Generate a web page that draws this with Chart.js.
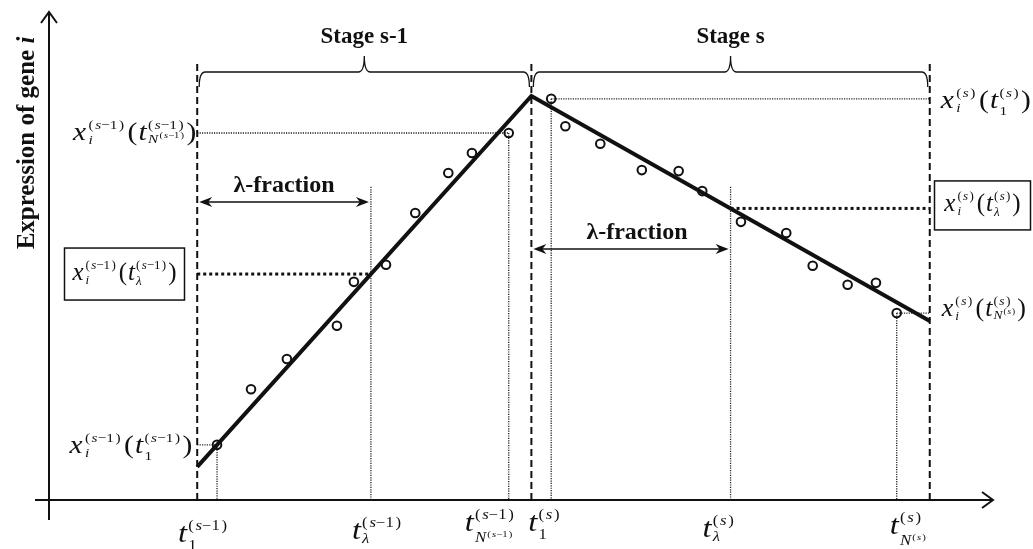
<!DOCTYPE html>
<html>
<head>
<meta charset="utf-8">
<script src="https://cdn.jsdelivr.net/npm/chart.js@4/dist/chart.umd.min.js"></script>
<style>
  html, body { margin: 0; padding: 0; background: #fff; }
  canvas { display: block; }
</style>
</head>
<body>
<canvas id="c" width="1033" height="549"></canvas>
<script>
// Expression of gene i sampled over time, stage s-1
const prevTimes = [17.8, 21.4, 25.2, 30.5, 32.3, 35.7, 38.8, 42.3, 44.8, 48.7];
const prevExpr  = [11.3, 22.7, 28.9, 35.7, 44.7, 48.2, 58.8, 67.0, 71.1, 75.2];
// Expression of gene i sampled over time, stage s
const curTimes = [53.2, 54.7, 58.4, 62.8, 66.7, 69.2, 73.3, 78.1, 80.9, 84.6, 87.6, 89.8];
const curExpr  = [82.2, 76.6, 73.0, 67.6, 67.4, 63.3, 57.0, 54.7, 48.0, 44.1, 44.5, 38.3];
// Stage boundaries and the piecewise-linear trend at those boundaries
const stageBounds = [15.7, 51.1, 93.3];
const fitExpr = [6.8, 82.8, 36.7];
// lambda-fraction time points of each stage
const lambdaTimes = [34.1, 72.2];
const stageTitles = ['Stage s-1', 'Stage s'];
const axisTitle = ['Expression of gene ', 'i'];
const lambdaText = 'λ-fraction';

// drawing constants (value-space heights of guide tops)
const GUIDE_TOP = 89.5;
const LAMBDA_TOP = 64.3;

function fitAt(t) {
  for (let k = 0; k < stageBounds.length - 1; k++) {
    const a = stageBounds[k], b = stageBounds[k + 1];
    if (t >= a && t <= b) return fitExpr[k] + (t - a) / (b - a) * (fitExpr[k + 1] - fitExpr[k]);
  }
  return NaN;
}

const pts = (ts, vs) => ts.map((t, i) => ({ x: t, y: vs[i] }));
const seg = (x1, y1, x2, y2) => [{ x: x1, y: y1 }, { x: x2, y: y2 }];

const INK = '#111';
const dashed = { borderColor: INK, borderWidth: 2, borderDash: [7, 4] };
const dotted = { borderColor: '#222', borderWidth: 1.3, borderDash: [1.2, 1.2] };
const heavyDot = { borderColor: INK, borderWidth: 3, borderDash: [3, 3] };

function guide(data, style) {
  return Object.assign({ data, showLine: true, pointRadius: 0, fill: false, tension: 0, clip: false }, style);
}

const lastP = prevTimes.length - 1, lastC = curTimes.length - 1;
const sampleStyle = { pointRadius: 4.3, pointBorderWidth: 2, pointBackgroundColor: 'rgba(0,0,0,0)',
  pointBorderColor: INK, showLine: false, clip: false };
const datasets = [
  Object.assign({ data: pts(prevTimes, prevExpr) }, sampleStyle),
  Object.assign({ data: pts(curTimes, curExpr) }, sampleStyle),
  guide(pts(stageBounds, fitExpr), { borderColor: INK, borderWidth: 4, borderJoinStyle: 'miter' }),
  // stage boundaries
  ...stageBounds.map(b => guide(seg(b, 0, b, GUIDE_TOP), dashed)),
  // first / last samples of each stage
  guide(seg(stageBounds[0], prevExpr[0], prevTimes[0], prevExpr[0]), dotted),
  guide(seg(prevTimes[0], prevExpr[0], prevTimes[0], 0), dotted),
  guide(seg(stageBounds[0], prevExpr[lastP], prevTimes[lastP], prevExpr[lastP]), dotted),
  guide(seg(prevTimes[lastP], prevExpr[lastP], prevTimes[lastP], 0), dotted),
  guide(seg(curTimes[0], curExpr[0], stageBounds[2], curExpr[0]), dotted),
  guide(seg(curTimes[0], curExpr[0], curTimes[0], 0), dotted),
  guide(seg(curTimes[lastC], curExpr[lastC], stageBounds[2], curExpr[lastC]), dotted),
  guide(seg(curTimes[lastC], curExpr[lastC], curTimes[lastC], 0), dotted),
  // lambda-fraction markers
  ...lambdaTimes.map(t => guide(seg(t, 0, t, LAMBDA_TOP), dotted)),
  guide(seg(stageBounds[0], fitAt(lambdaTimes[0]), lambdaTimes[0], fitAt(lambdaTimes[0])), heavyDot),
  guide(seg(lambdaTimes[1], fitAt(lambdaTimes[1]), stageBounds[2], fitAt(lambdaTimes[1])), heavyDot)
];

// ---- small math-text renderer ----
const SERIF = '"Liberation Serif", "Times New Roman", serif';
const fnt = (sz, it, b) => (it ? 'italic ' : '') + (b ? 'bold ' : '') + sz + 'px ' + SERIF;
const T = (s, sz, it) => ['t', s, sz, !!it];
const G = w => ['g', w];
const SS = (sup, sub, supDy, subDy) => ['ss', sup, sub, supDy, subDy];

function run(ctx, nodes, x, y, draw) {
  let cx = x;
  for (const n of nodes) {
    if (n[0] === 't') {
      ctx.font = fnt(n[2], n[3]);
      if (draw) ctx.fillText(n[1], cx, y);
      cx += ctx.measureText(n[1]).width;
    } else if (n[0] === 'g') {
      cx += n[1];
    } else {
      const w1 = run(ctx, n[1], cx, y + n[3], draw);
      const w2 = run(ctx, n[2], cx, y + n[4], draw);
      cx += Math.max(w1, w2);
    }
  }
  return cx - x;
}
function stageSup(prev, sz) {
  const g = sz * 0.1;
  return prev
    ? [T('(', sz), G(g), T('s', sz, true), T('−1', sz), G(g), T(')', sz)]
    : [T('(', sz), G(g), T('s', sz, true), G(g), T(')', sz)];
}
function tSub(kind, prev, sz) {
  if (kind === '1') return [T('1', sz)];
  if (kind === 'λ') return [T('λ', sz, true)];
  return [T('N', sz, true), G(1), SS(stageSup(prev, 9), [], -5, 0)];
}
// time symbol t with stage superscript and index subscript
function tTerm(kind, prev, g) {
  return [T('t', g.M, true), G(1), SS(stageSup(prev, g.S), tSub(kind, prev, g.S), g.sup, g.sub[kind])];
}
function xLabel(kind, prev, g) {
  return [T('x', g.M, true), G(2), SS(stageSup(prev, g.S), [T('i', g.S, true)], g.sup, 4), G(3),
    T('(', g.M), G(1), ...tTerm(kind, prev, g), G(2), T(')', g.M)];
}

function arrowHead(ctx, x, y, dir) {
  ctx.beginPath();
  ctx.moveTo(x, y);
  ctx.lineTo(x + dir * 13, y - 5);
  ctx.lineTo(x + dir * 9, y);
  ctx.lineTo(x + dir * 13, y + 5);
  ctx.closePath();
  ctx.fill();
}

function brace(ctx, x1, x2, y, drop, rise) {
  const xm = (x1 + x2) / 2;
  ctx.beginPath();
  ctx.moveTo(x1, y + drop);
  ctx.quadraticCurveTo(x1, y, x1 + 6, y);
  ctx.lineTo(xm - 6, y);
  ctx.quadraticCurveTo(xm, y, xm, y - rise);
  ctx.quadraticCurveTo(xm, y, xm + 6, y);
  ctx.lineTo(x2 - 6, y);
  ctx.quadraticCurveTo(x2, y, x2, y + drop);
  ctx.stroke();
}

const diagram = {
  id: 'diagram',
  beforeDatasetsDraw(chart) {
    const { ctx, chartArea: a } = chart;
    ctx.save();
    ctx.strokeStyle = INK;
    ctx.lineWidth = 2;
    // vertical axis with arrow
    ctx.beginPath();
    ctx.moveTo(a.left, a.bottom + 20);
    ctx.lineTo(a.left, a.top);
    ctx.moveTo(a.left - 8, a.top + 11);
    ctx.lineTo(a.left, a.top);
    ctx.lineTo(a.left + 8, a.top + 11);
    // horizontal axis with arrow
    ctx.moveTo(a.left - 14, a.bottom);
    ctx.lineTo(a.right, a.bottom);
    ctx.moveTo(a.right - 11, a.bottom - 8);
    ctx.lineTo(a.right, a.bottom);
    ctx.lineTo(a.right - 11, a.bottom + 8);
    ctx.stroke();
    ctx.restore();
  },
  afterDatasetsDraw(chart) {
    const { ctx } = chart;
    const xs = chart.scales.x, ys = chart.scales.y;
    const X = v => xs.getPixelForValue(v), Y = v => ys.getPixelForValue(v);
    ctx.save();
    ctx.fillStyle = INK;
    ctx.strokeStyle = INK;
    ctx.textBaseline = 'alphabetic';

    // braces and stage titles
    ctx.lineWidth = 1.3;
    const braceY = 72;
    for (let k = 0; k < 2; k++) {
      const x1 = X(stageBounds[k]) + 2, x2 = X(stageBounds[k + 1]) - 2;
      brace(ctx, x1, x2, braceY, 15, 16);
      ctx.font = fnt(23, false, true);
      ctx.textAlign = 'center';
      ctx.fillText(stageTitles[k], (x1 + x2) / 2, 43);
    }

    // lambda-fraction arrows
    const arrowY = [202, 249];
    ctx.lineWidth = 1.5;
    for (let k = 0; k < 2; k++) {
      const xa = X(stageBounds[k]) + 2, xb = X(lambdaTimes[k]) - 2;
      ctx.beginPath();
      ctx.moveTo(xa + 8, arrowY[k]);
      ctx.lineTo(xb - 8, arrowY[k]);
      ctx.stroke();
      arrowHead(ctx, xa, arrowY[k], 1);
      arrowHead(ctx, xb, arrowY[k], -1);
      ctx.font = fnt(24, false, true);
      ctx.textAlign = 'center';
      ctx.fillText(lambdaText, (xa + xb) / 2 + (k ? 6 : 0), arrowY[k] - 10);
    }

    // axis title
    ctx.save();
    ctx.translate(25, 143);
    ctx.rotate(-Math.PI / 2);
    ctx.textAlign = 'left';
    ctx.font = fnt(25, false, true);
    const w1 = ctx.measureText(axisTitle[0]).width;
    ctx.font = fnt(25, true, true);
    const w2 = ctx.measureText(axisTitle[1]).width;
    const x0 = -(w1 + w2) / 2;
    ctx.font = fnt(25, false, true);
    ctx.fillText(axisTitle[0], x0, 9);
    ctx.font = fnt(25, true, true);
    ctx.fillText(axisTitle[1], x0 + w1, 9);
    ctx.restore();

    ctx.textAlign = 'left';
    // horizontally widened math labels
    const put = (nodes, x, y, align, sx) => {
      const w = run(ctx, nodes, 0, 0, false) * sx;
      const left = align === 'right' ? x - w : align === 'center' ? x - w / 2 : x;
      ctx.save();
      ctx.translate(left, y);
      ctx.scale(sx, 1);
      run(ctx, nodes, 0, 0, true);
      ctx.restore();
    };

    const EX = { M: 25, S: 13, sup: -11, sub: { '1': 7, 'λ': 5, 'N': 3 } };
    const SX = 1.18;
    // expression labels, stage s-1
    put(xLabel('N', true, EX), X(stageBounds[0]) - 1, Y(prevExpr[lastP]) + 7, 'right', SX);
    put(xLabel('1', true, EX), X(stageBounds[0]) - 5, Y(prevExpr[0]) + 8, 'right', SX);
    const ly0 = Y(fitAt(lambdaTimes[0]));
    ctx.lineWidth = 1.5;
    ctx.strokeRect(64.5, ly0 - 26, 120, 52);
    put(xLabel('λ', true, EX), 124.5, ly0 + 6, 'center', 1.0);

    // expression labels, stage s
    put(xLabel('1', false, EX), X(stageBounds[2]) + 11, Y(curExpr[0]) + 9, 'left', SX);
    put(xLabel('N', false, EX), X(stageBounds[2]) + 12, Y(curExpr[lastC]) + 3, 'left', 1.04);
    const ly1 = Y(fitAt(lambdaTimes[1])) - 3;
    ctx.strokeRect(934.5, ly1 - 24.5, 96, 49);
    put(xLabel('λ', false, EX), 982.5, ly1 + 6, 'center', 1.0);

    // time labels under the axis
    const TX = { M: 27, S: 14, sup: -12, sub: { '1': 8, 'λ': 4, 'N': 11 } };
    const TSX = 1.2;
    put(tTerm('1', true, TX), X(prevTimes[0]) - 39, 542, 'left', TSX);
    put(tTerm('λ', true, TX), X(lambdaTimes[0]) - 19, 539, 'left', TSX);
    put(tTerm('N', true, TX), X(prevTimes[lastP]) - 44, 531, 'left', TSX);
    put(tTerm('1', false, TX), X(curTimes[0]) - 23, 531, 'left', TSX);
    put(tTerm('λ', false, TX), X(lambdaTimes[1]) - 28, 537, 'left', TSX);
    put(tTerm('N', false, TX), X(curTimes[lastC]) - 7, 534, 'left', TSX);

    ctx.restore();
  }
};

new Chart(document.getElementById('c'), {
  type: 'scatter',
  data: { datasets },
  options: {
    responsive: false,
    animation: false,
    events: [],
    layout: { padding: { left: 49, right: 40, top: 12, bottom: 49 } },
    plugins: { legend: { display: false }, tooltip: { enabled: false } },
    scales: {
      x: { type: 'linear', min: 0, max: 100, display: false },
      y: { type: 'linear', min: 0, max: 100, display: false }
    }
  },
  plugins: [diagram]
});
</script>
</body>
</html>
